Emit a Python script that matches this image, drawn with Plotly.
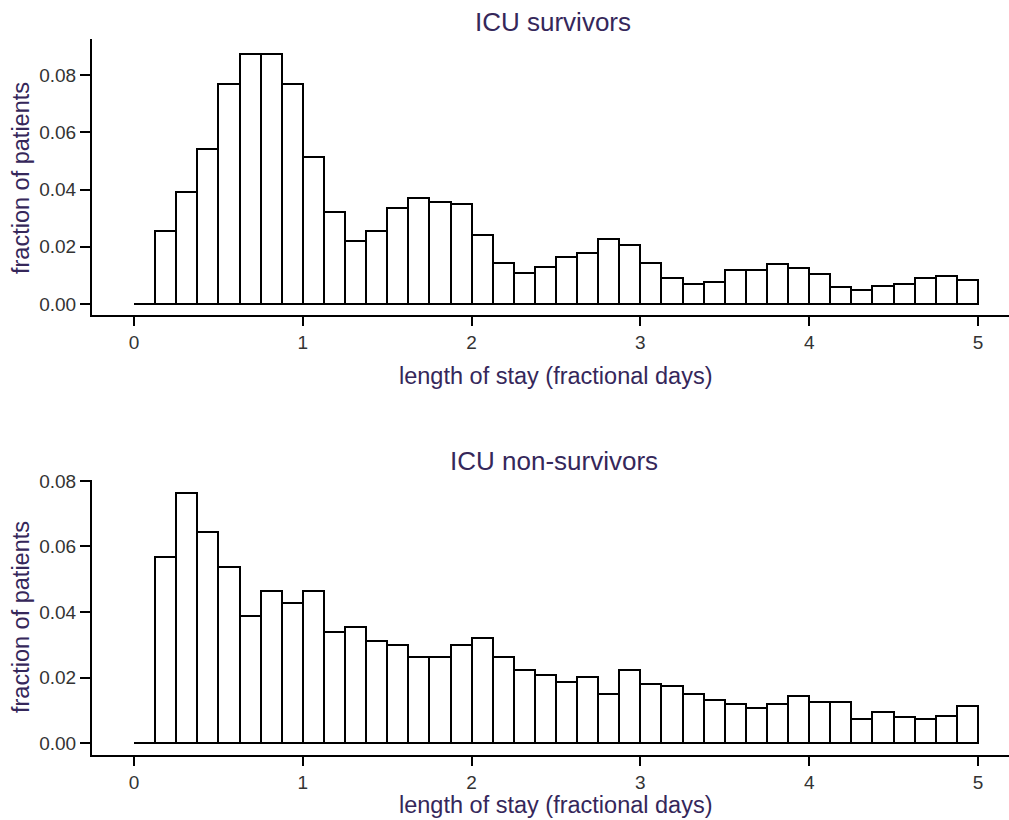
import plotly.graph_objects as go

# ---- data ----
bin_width = 0.125
bin_start = [0.0, 0.125, 0.25, 0.375, 0.5, 0.625, 0.75, 0.875,
             1.0, 1.125, 1.25, 1.375, 1.5, 1.625, 1.75, 1.875,
             2.0, 2.125, 2.25, 2.375, 2.5, 2.625, 2.75, 2.875,
             3.0, 3.125, 3.25, 3.375, 3.5, 3.625, 3.75, 3.875,
             4.0, 4.125, 4.25, 4.375, 4.5, 4.625, 4.75, 4.875]
survivors = [0, 0.0255, 0.039, 0.054, 0.077, 0.0875, 0.0875, 0.077,
             0.0515, 0.032, 0.022, 0.0255, 0.0336, 0.037, 0.0356, 0.035,
             0.024, 0.0145, 0.011, 0.013, 0.0165, 0.018, 0.0227, 0.0206,
             0.0145, 0.0091, 0.007, 0.0078, 0.0119, 0.0119, 0.0139, 0.0127,
             0.0104, 0.0058, 0.0049, 0.0063, 0.007, 0.0091, 0.0098, 0.0084]
nonsurvivors = [0, 0.0567, 0.0762, 0.0645, 0.0537, 0.0389, 0.0465, 0.0429,
                0.0465, 0.034, 0.0353, 0.031, 0.0299, 0.0262, 0.0262, 0.0299,
                0.0322, 0.0262, 0.0222, 0.0208, 0.0186, 0.0201, 0.0149, 0.0222,
                0.018, 0.0173, 0.0149, 0.0132, 0.0119, 0.0107, 0.0119, 0.0143,
                0.0125, 0.0125, 0.0073, 0.0096, 0.0079, 0.0073, 0.0084, 0.0112]
x_ticks = [0, 1, 2, 3, 4, 5]
x_tick_labels = ["0", "1", "2", "3", "4", "5"]
y_ticks = [0.0, 0.02, 0.04, 0.06, 0.08]
y_tick_labels = ["0.00", "0.02", "0.04", "0.06", "0.08"]
titles = ["ICU survivors", "ICU non-survivors"]
x_label = "length of stay (fractional days)"
y_label = "fraction of patients"

W, H = 1009, 820
FONT = "Liberation Sans, Arial, sans-serif"
TXT = "#35275a"
TICK = "#333333"

centers = [s + bin_width / 2 for s in bin_start]
edge_lo, edge_hi = bin_start[0], bin_start[-1] + bin_width

fig = go.Figure()
for i, vals in enumerate([survivors, nonsurvivors]):
    xa = "x" if i == 0 else "x2"
    ya = "y" if i == 0 else "y2"
    fig.add_trace(go.Bar(x=centers, y=vals, width=bin_width, xaxis=xa, yaxis=ya,
                         marker=dict(color="white", line=dict(color="black", width=2)),
                         showlegend=False, hoverinfo="x+y"))
    fig.add_trace(go.Scatter(x=[edge_lo, edge_hi], y=[0, 0], mode="lines", xaxis=xa, yaxis=ya,
                             line=dict(color="black", width=2), showlegend=False,
                             hoverinfo="skip"))

def px_x(p):
    return p / W

def px_y(p):
    return 1 - p / H

xdom = [px_x(92), 1.0]
common_x = dict(range=[-0.249, 5.184], domain=xdom, tickvals=x_ticks, ticktext=x_tick_labels,
                ticks="outside", ticklen=9, tickwidth=2, tickcolor="black", automargin=False,
                showline=True, linewidth=2, linecolor="black", showgrid=False, zeroline=False,
                tickfont=dict(family=FONT, size=19, color=TICK))
common_y = dict(tickvals=y_ticks, ticktext=y_tick_labels, ticks="outside", ticklen=10,
                tickwidth=2, tickcolor="black", showline=True, linewidth=2, linecolor="black",
                showgrid=False, zeroline=False, automargin=False,
                tickfont=dict(family=FONT, size=19, color=TICK))

fig.update_layout(
    width=W, height=H, margin=dict(l=0, r=0, t=0, b=0, pad=0, autoexpand=False),
    paper_bgcolor="white", plot_bgcolor="white", bargap=0,
    xaxis=dict(anchor="y", **common_x),
    xaxis2=dict(anchor="y2", **common_x),
    yaxis=dict(anchor="x", domain=[px_y(315), px_y(39)], range=[-0.00384, 0.0926], **common_y),
    yaxis2=dict(anchor="x2", domain=[px_y(755), px_y(480)], range=[-0.00366, 0.0803], **common_y),
)

ann = []
ann.append(dict(text=titles[0], x=px_x(553), y=px_y(21.5), font=dict(size=26)))
ann.append(dict(text=titles[1], x=px_x(554), y=px_y(461), font=dict(size=26)))
ann.append(dict(text=x_label, x=px_x(555.5), y=px_y(376), font=dict(size=23.5)))
ann.append(dict(text=x_label, x=px_x(555.5), y=px_y(805), font=dict(size=23.5)))
ann.append(dict(text=y_label, x=px_x(21), y=px_y(178), textangle=-90, font=dict(size=23.5)))
ann.append(dict(text=y_label, x=px_x(21), y=px_y(617), textangle=-90, font=dict(size=23.5)))
for a in ann:
    a.update(xref="paper", yref="paper", xanchor="center", yanchor="middle", showarrow=False)
    a["font"].update(family=FONT, color=TXT)
fig.update_layout(annotations=ann)

post = """
document.documentElement.style.margin='0';
document.documentElement.style.overflow='hidden';
document.body.style.margin='0';
document.body.style.padding='0';
document.body.style.overflow='hidden';
var gds = document.getElementsByClassName('plotly-graph-div');
for (var k = 0; k < gds.length; k++) {
  gds[k].style.position = 'fixed';
  gds[k].style.top = '0px';
  gds[k].style.left = '0px';
}
"""

fig.write_html("out.html", config={"displayModeBar": False}, post_script=post)
